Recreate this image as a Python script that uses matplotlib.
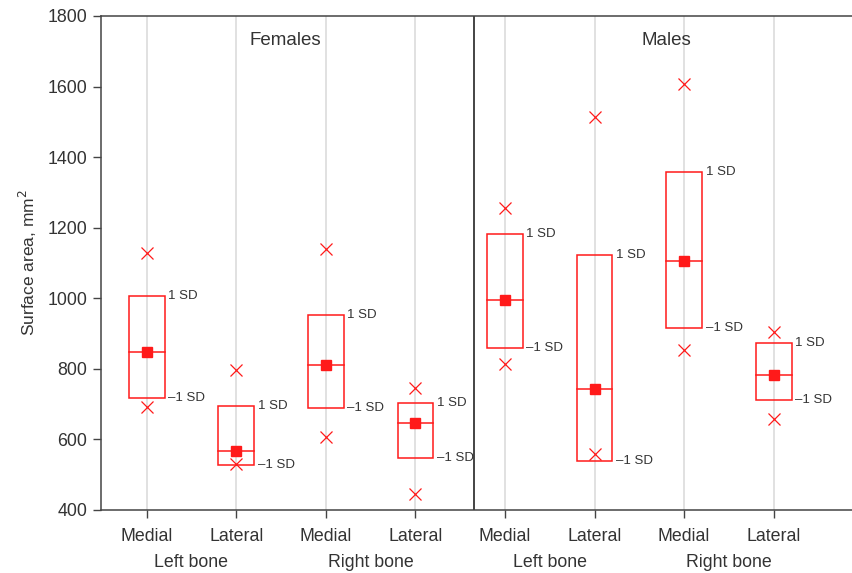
import numpy as np
import matplotlib
matplotlib.use('Agg')
from matplotlib import pyplot
from matplotlib.patches import Rectangle

pyplot.rcParams['font.family'] = ['Liberation Sans', 'DejaVu Sans']

# categories
sides = ['Medial', 'Lateral'] * 4
bones = ['Left bone', 'Right bone', 'Left bone', 'Right bone']
sexes = ['Females', 'Males']

# surface area (mm^2) per category
means = [849, 566, 812, 647, 996, 744, 1107, 784]
sd_hi = [1007, 694, 953, 702, 1182, 1122, 1358, 873]
sd_lo = [718, 527, 688, 546, 858, 538, 916, 713]
maxs = [1128, 797, 1139, 747, 1257, 1514, 1607, 905]
mins = [692, 531, 607, 444, 815, 559, 853, 659]

RED = '#ff1a1a'
TXT = '#333333'
FS = 12.8

fig = pyplot.figure(figsize=(8.53, 5.73), dpi=100)
ax = fig.add_axes([101/853, 1 - 510/573, 1 - 101/853, (510 - 16)/573])

xs = np.arange(1, len(means) + 1)
w = 0.4

# light guide line through each category
for x in xs:
	ax.axvline(x, color='#dcdcdc', lw=1.2, zorder=0)

for i, x in enumerate(xs):
	# box spans -1 SD .. +1 SD
	ax.add_patch(Rectangle((x - w/2, sd_lo[i]), w, sd_hi[i] - sd_lo[i], fill=False, ec=RED, lw=1.1, zorder=2))
	ax.plot([x - w/2, x + w/2], [means[i], means[i]], color=RED, lw=1.1, zorder=2)
	ax.plot(x, means[i], 's', color=RED, ms=7, zorder=3)
	ax.plot([x, x], [maxs[i], mins[i]], 'x', color=RED, ms=8, mew=0.9, ls='none', zorder=3)
	ax.text(x + w/2 + 0.04, sd_hi[i], '1 SD', fontsize=9.5, color=TXT, ha='left', va='center')
	ax.text(x + w/2 + 0.04, sd_lo[i], '\u20131 SD', fontsize=9.5, color=TXT, ha='left', va='center')

# divider between the two panels
ax.axvline(4.65, color='#111111', lw=1.1, zorder=1)
ax.text(2.55, 1730, sexes[0], fontsize=13.5, color=TXT, ha='center', va='center')
ax.text(6.8, 1730, sexes[1], fontsize=13.5, color=TXT, ha='center', va='center')

ax.set_xlim(0.49, 8.885)
ax.set_ylim(400, 1800)
ax.set_yticks(np.arange(400, 1801, 200))
ax.set_xticks(xs)
ax.set_xticklabels(sides)
ax.tick_params(axis='both', direction='out', length=6, width=1, colors='#444444', labelcolor=TXT, labelsize=FS)
ax.tick_params(axis='x', pad=7)
ax.tick_params(axis='y', pad=4)

# bone group labels under each pair
for j, b in enumerate(bones):
	ax.text(1.5 + 2*j, -0.107, b, transform=ax.get_xaxis_transform(), fontsize=FS, color=TXT, ha='center', va='center')

ax.set_ylabel('Surface area, mm$^2$', fontsize=12.5, color=TXT, labelpad=6)

for s in ['top', 'bottom', 'left']:
	ax.spines[s].set_color('#444444')
	ax.spines[s].set_linewidth(1.1)
ax.spines['right'].set_visible(False)

fig.savefig('out.png', dpi=100)
